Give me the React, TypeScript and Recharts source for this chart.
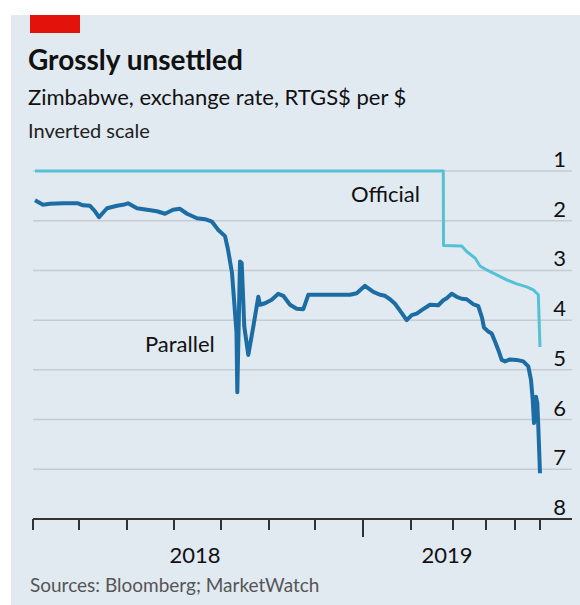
import { LineChart, Line, XAxis, YAxis, CartesianGrid } from "recharts";

// horizontal position along the reference's time axis (its month ticks are unevenly spaced)
const monthTicks = [0, 46, 94, 141, 188, 236, 282, 330, 378, 420, 453, 482, 507];
const yearStartTick = 330;
const yearTicks = [162, 414];
const yearLabels = ["2018", "2019"];
const rateTicks = [1, 2, 3, 4, 5, 6, 7, 8];

const parallelT = [
  2, 10, 17, 30, 45, 50, 57, 62, 66, 74, 84, 90, 95, 104, 114, 124, 132, 140, 147, 154,
  164, 172, 179, 185, 192, 195, 199, 201, 203.5, 204.3, 207, 208.7, 211.3, 215.3, 220.3,
  225.3, 227, 232, 238.7, 245.3, 250.3, 257, 263.7, 270.3, 275.3, 317, 323.7, 332, 340.3,
  347, 352, 357, 362, 367, 373.7, 378.7, 383.7, 388.7, 397, 405.3, 410.3, 413.7, 418.7,
  423.7, 428.7, 433.7, 440.3, 445.3, 449, 451, 455.3, 458.7, 462, 465.3, 468.7, 472, 477,
  483.7, 490.3, 495.3, 498, 499.7, 501, 503, 504.3, 505.3, 507,
];
const parallelRate = [
  1.59, 1.68, 1.66, 1.65, 1.65, 1.69, 1.7, 1.81, 1.93, 1.75, 1.7, 1.68, 1.65, 1.75, 1.78,
  1.81, 1.86, 1.78, 1.76, 1.86, 1.95, 1.97, 2.02, 2.18, 2.31, 2.58, 3.05, 3.58, 4.25, 5.45,
  2.82, 2.85, 4.13, 4.7, 4.13, 3.53, 3.69, 3.66, 3.59, 3.47, 3.51, 3.69, 3.77, 3.78, 3.49,
  3.49, 3.46, 3.31, 3.43, 3.49, 3.51, 3.58, 3.67, 3.81, 4.0, 3.9, 3.87, 3.8, 3.69, 3.7,
  3.6, 3.56, 3.47, 3.53, 3.57, 3.58, 3.68, 3.72, 3.95, 4.15, 4.23, 4.27, 4.43, 4.6, 4.8,
  4.83, 4.79, 4.8, 4.83, 4.93, 5.2, 5.6, 6.07, 5.54, 5.67, 6.14, 7.08,
];

const officialT = [2, 410.3, 410.5, 428.7, 433.7, 442, 447, 453.7, 463.7, 473.7, 483.7, 493.7, 500.3, 505.3, 507];
const officialRate = [1.0, 1.0, 2.5, 2.51, 2.62, 2.75, 2.91, 2.99, 3.09, 3.19, 3.27, 3.33, 3.39, 3.49, 4.54];

const parallel = parallelT.map((t, i) => ({ t, v: parallelRate[i] }));
const official = officialT.map((t, i) => ({ t, v: officialRate[i] }));

const FONT = "Lato, 'Noto Sans', sans-serif";

// month marks, plus the year names set between them
// eslint-disable-next-line @typescript-eslint/no-explicit-any
function TimeTick(props: any) {
  const { x, y, payload } = props;
  const yi = yearTicks.indexOf(payload.value);
  if (yi >= 0) {
    return (
      <text x={x} y={y + 44} textAnchor="middle" fontSize={22} fill="#111" fontFamily={FONT}>
        {yearLabels[yi]}
      </text>
    );
  }
  const len = payload.value === yearStartTick ? 18 : 11;
  return <line x1={x} x2={x} y1={y} y2={y + len} stroke="#333" strokeWidth={2} />;
}

// eslint-disable-next-line @typescript-eslint/no-explicit-any
function RateTick(props: any) {
  const { x, y, payload } = props;
  return (
    <text x={x - 6} y={y - 4} textAnchor="end" fontSize={22} fill="#111" fontFamily={FONT}>
      {payload.value}
    </text>
  );
}

export default function App() {
  return (
    <div style={{ position: "absolute", left: 0, top: 0, width: 580, height: 605, background: "#fff", overflow: "hidden" }}>
      <div style={{ position: "absolute", left: 11, top: 15, width: 569, height: 590, background: "#e1e9f1" }} />
      <div style={{ position: "absolute", left: 30, top: 15, width: 50, height: 18, background: "#e3120b" }} />
      <div style={{ position: "absolute", left: 0, top: 0 }}>
        <LineChart width={580} height={605} margin={{ top: 171, right: 7, bottom: 36, left: 33 }}>
          <CartesianGrid vertical={false} stroke="#c5ccd3" strokeWidth={1.5} />
          <XAxis
            dataKey="t"
            type="number"
            domain={[0, 539]}
            ticks={[...monthTicks, ...yearTicks]}
            interval={0}
            height={50}
            tickSize={0}
            tickMargin={0}
            tickLine={false}
            axisLine={{ stroke: "#333", strokeWidth: 2 }}
            tick={<TimeTick />}
          />
          <YAxis
            orientation="right"
            type="number"
            reversed
            domain={[1, 8]}
            ticks={rateTicks}
            interval={0}
            width={1}
            tickSize={0}
            tickMargin={0}
            tickLine={false}
            axisLine={false}
            tick={<RateTick />}
          />
          <Line
            data={official}
            dataKey="v"
            type="linear"
            stroke="#55c1d5"
            strokeWidth={3}
            dot={false}
            strokeLinejoin="round"
            isAnimationActive={false}
          />
          <Line
            data={parallel}
            dataKey="v"
            type="linear"
            stroke="#1c6da3"
            strokeWidth={4}
            dot={false}
            strokeLinejoin="round"
            isAnimationActive={false}
          />
        </LineChart>
      </div>
      <svg width={580} height={605} style={{ position: "absolute", left: 0, top: 0, pointerEvents: "none" }}>
        <g fontFamily={FONT} fill="#111">
          <text x={28} y={70} fontSize={28} fontWeight={700}>Grossly unsettled</text>
          <text x={28} y={105} fontSize={22}>Zimbabwe, exchange rate, RTGS$ per $</text>
          <text x={28} y={138} fontSize={20} fill="#222">Inverted scale</text>
          <text x={351} y={202} fontSize={22}>Official</text>
          <text x={145} y={352} fontSize={22}>Parallel</text>
          <text x={30} y={592} fontSize={19} fill="#555">Sources: Bloomberg; MarketWatch</text>
        </g>
      </svg>
    </div>
  );
}
